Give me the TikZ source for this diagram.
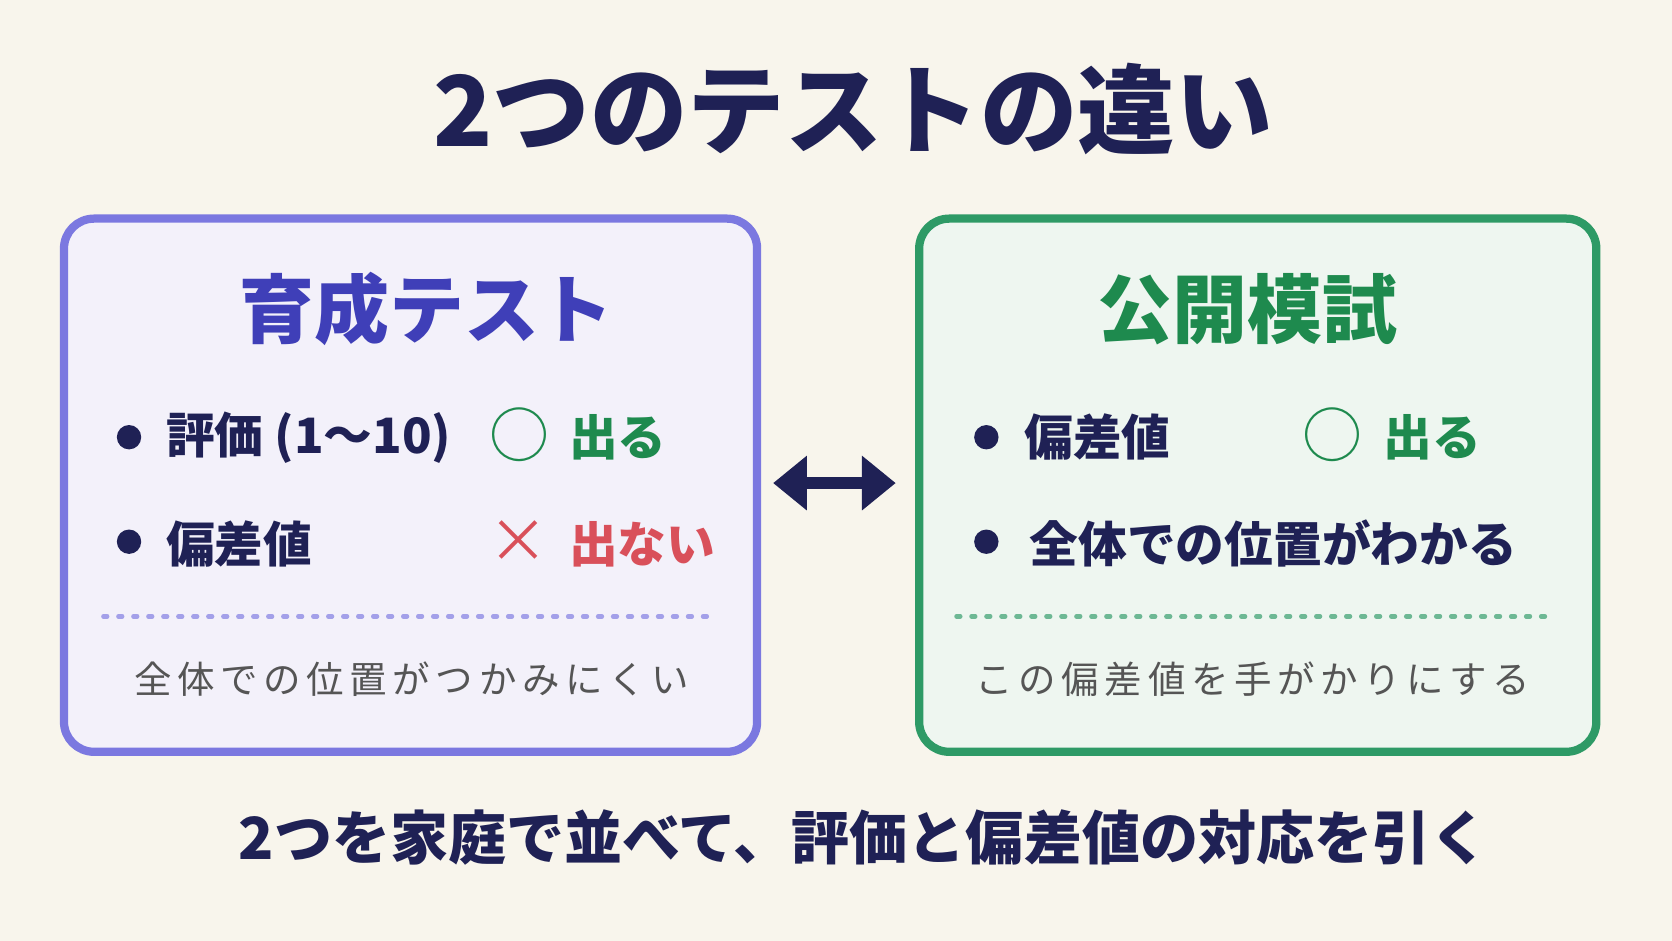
\documentclass[tikz,border=0pt]{standalone}
\usetikzlibrary{arrows.meta}
\usepackage{fontspec}
\setmainfont{Noto Sans CJK JP}
\definecolor{bg}{HTML}{F8F5EC}
\definecolor{navy}{HTML}{1F2155}
\definecolor{lpur}{HTML}{7B78E0}
\definecolor{lpurf}{HTML}{F3F1FA}
\definecolor{ptit}{HTML}{3F3FB8}
\definecolor{grn}{HTML}{2E9A66}
\definecolor{grnf}{HTML}{EEF6F0}
\definecolor{gtit}{HTML}{1E8A4E}
\definecolor{rd}{HTML}{D9505A}
\definecolor{gry}{HTML}{555555}
\tikzset{
 box/.style={rounded corners=8pt,line width=2.2pt},
 btxt/.style={font=\fontsize{13pt}{15pt}\selectfont\bfseries,text=navy,anchor=west,inner sep=0},
 mk/.style={font=\fontsize{16pt}{18pt}\selectfont,anchor=center,inner sep=0},
 dot/.style={circle,fill=navy,inner sep=0,minimum size=6.5pt},
 note/.style={font=\fontsize{10pt}{12pt}\selectfont,text=gry},
}
\begin{document}
\begin{tikzpicture}[x=1cm,y=-1cm]
\fill[bg] (0,0) rectangle (15.68,8.82);
\useasboundingbox (0,0) rectangle (15.68,8.82);
\node (title) at (8.0,1.02) {\fontsize{26pt}{30pt}\selectfont\bfseries\color{navy}2つのテストの違い};
\draw[box,draw=lpur,fill=lpurf] (0.6,2.05) rectangle (7.1,7.05);
\draw[box,draw=grn,fill=grnf] (8.62,2.05) rectangle (14.97,7.05);
\node (lt) at (4.0,2.9) {\fontsize{20pt}{24pt}\selectfont\bfseries\color{ptit}育成テスト};
\node (rt) at (11.7,2.9) {\fontsize{20pt}{24pt}\selectfont\bfseries\color{gtit}公開模試};
% left rows
\node[dot] (ld1) at (1.21,4.1) {};
\node[btxt] (l1) at (1.55,4.1) {評価 (1～10)};
\node[mk,text=gtit] (l1m) at (4.87,4.08) {○};
\node[btxt,text=gtit] (l1b) at (5.33,4.1) {出る};
\node[dot] (ld2) at (1.21,5.08) {};
\node[btxt] (l2) at (1.55,5.1) {偏差値};
\node[mk,text=rd] (l2m) at (4.86,5.08) {×};
\node[btxt,text=rd] (l2b) at (5.33,5.1) {出ない};
\draw[lpur!70,line width=1.2pt,dash pattern=on 1pt off 3pt,line cap=round] (0.97,5.78) -- (6.72,5.78);
\node[note] (ln) at (3.86,6.37) {全\hspace{1.5pt}体\hspace{1.5pt}で\hspace{1.5pt}の\hspace{1.5pt}位\hspace{1.5pt}置\hspace{1.5pt}が\hspace{1.5pt}つ\hspace{1.5pt}か\hspace{1.5pt}み\hspace{1.5pt}に\hspace{1.5pt}く\hspace{1.5pt}い};
% right rows
\node[dot] (rd1) at (9.25,4.1) {};
\node[btxt] (r1) at (9.6,4.1) {偏差値};
\node[mk,text=gtit] (r1m) at (12.5,4.08) {○};
\node[btxt,text=gtit] (r1b) at (12.97,4.1) {出る};
\node[dot] (rd2) at (9.25,5.08) {};
\node[btxt] (r2) at (9.65,5.1) {全体での位置がわかる};
\draw[grn!70,line width=1.2pt,dash pattern=on 1pt off 3pt,line cap=round] (8.97,5.78) -- (14.58,5.78);
\node[note] (rn) at (11.75,6.37) {こ\hspace{1.5pt}の\hspace{1.5pt}偏\hspace{1.5pt}差\hspace{1.5pt}値\hspace{1.5pt}を\hspace{1.5pt}手\hspace{1.5pt}が\hspace{1.5pt}か\hspace{1.5pt}り\hspace{1.5pt}に\hspace{1.5pt}す\hspace{1.5pt}る};
% arrow
\coordinate (a1) at (7.25,4.53);
\coordinate (a2) at (8.4,4.53);
\draw[navy,line width=3pt,{Triangle[length=9pt,width=14pt]}-{Triangle[length=9pt,width=14pt]}] (a1) -- (a2);
\node (bot) at (8.1,7.85) {\fontsize{15.5pt}{18pt}\selectfont\bfseries\color{navy}2つを家庭で並べて、評価と偏差値の対応を引く};
\end{tikzpicture}
\end{document}
